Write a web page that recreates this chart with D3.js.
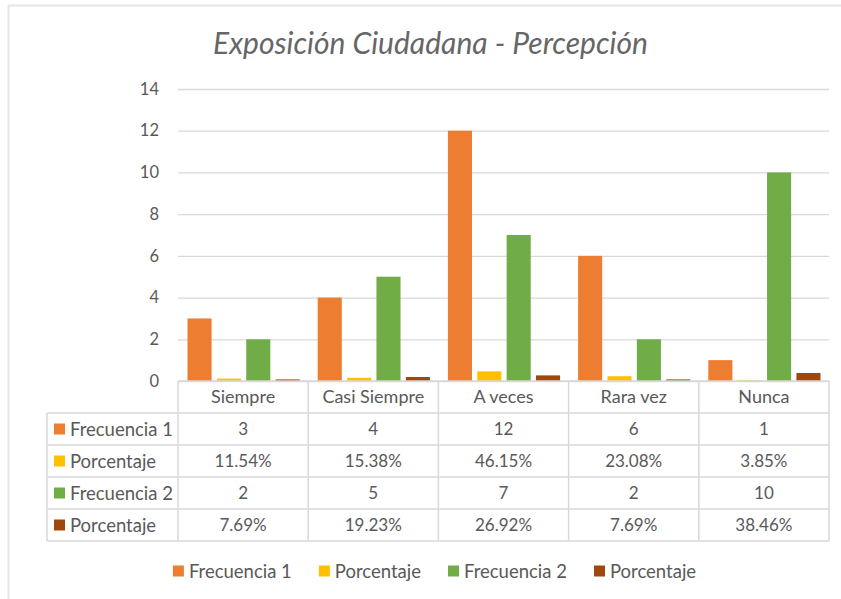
<!DOCTYPE html>
<html>
<head>
<meta charset="utf-8">
<script src="https://cdn.jsdelivr.net/npm/d3@7"></script>
<style>
  body { margin: 0; background: #fff; }
  svg text { font-family: Lato, "Open Sans", sans-serif; fill: #595959; }
</style>
</head>
<body>
<svg id="chart" width="841" height="599"></svg>
<script>
// data
const categories = ["Siempre", "Casi Siempre", "A veces", "Rara vez", "Nunca"];
const frecuencia1 = [3, 4, 12, 6, 1];
const porcentaje1 = [0.1154, 0.1538, 0.4615, 0.2308, 0.0385];
const frecuencia2 = [2, 5, 7, 2, 10];
const porcentaje2 = [0.0769, 0.1923, 0.2692, 0.0769, 0.3846];
const seriesNames = ["Frecuencia 1", "Porcentaje", "Frecuencia 2", "Porcentaje"];
const seriesKinds = ["count", "pct", "count", "pct"];
const colors = ["#ED7D31", "#FFC000", "#70AD47", "#9E480E"];
const yTicks = [0, 2, 4, 6, 8, 10, 12, 14];

const seriesValues = [frecuencia1, porcentaje1, frecuencia2, porcentaje2];

const svg = d3.select("#chart");
const grid = "#D9D9D9";

// outer frame (only top and left visible, chart is cropped)
svg.append("line").attr("x1", 8).attr("x2", 841).attr("y1", 5.5).attr("y2", 5.5)
  .attr("stroke", "#E6E6E6").attr("stroke-width", 2);
svg.append("line").attr("x1", 8.5).attr("x2", 8.5).attr("y1", 5).attr("y2", 599)
  .attr("stroke", "#E6E6E6").attr("stroke-width", 2);

// title
const title = svg.append("text")
  .attr("x", 430.5).attr("y", 54)
  .attr("text-anchor", "middle")
  .style("font-size", "29px")
  .style("font-style", "italic")
  .style("font-weight", 400)
  .style("fill", "#666")
  .text("Exposición Ciudadana - Percepción");
// fit title width to reference (~435px)
const tw = title.node().getComputedTextLength();
title.style("font-size", (29 * 435 / tw).toFixed(1) + "px");

// scales
const left = 178, right = 829, baseY = 381, topY = 89;
const x0 = d3.scaleBand().domain(categories).range([left, right]);
const x1 = d3.scaleBand().domain(d3.range(4)).range([9.5, x0.bandwidth() - 8.5]).paddingInner(0.18);
const y = d3.scaleLinear().domain([0, 14]).range([baseY, topY]);

// y axis grid + labels
const yAxis = d3.axisLeft(y).tickValues(yTicks).tickSize(-(right - left)).tickPadding(19);
const yg = svg.append("g").attr("transform", `translate(${left},0)`).call(yAxis);
yg.select(".domain").remove();
yg.selectAll(".tick line").attr("stroke", grid).attr("stroke-width", 1.3);
yg.selectAll(".tick text").style("font-size", "16.5px").attr("fill", "#595959")
  .style("font-family", "Lato, 'Open Sans', sans-serif");

// bars
const groups = svg.append("g").selectAll("g")
  .data(categories)
  .join("g")
  .attr("transform", d => `translate(${x0(d)},0)`);

groups.selectAll("rect")
  .data((c, i) => seriesValues.map((vals, s) => ({ s, v: vals[i] })))
  .join("rect")
  .attr("x", d => x1(d.s))
  .attr("width", x1.bandwidth())
  .attr("y", d => y(d.v))
  .attr("height", d => baseY - y(d.v))
  .attr("fill", d => colors[d.s]);

// data table
const tableLeft = 47, rowH = 32;
const tableBottom = baseY + rowH * 5;
const fmtPct = d3.format(".2%");
const table = svg.append("g");

// horizontal lines
table.append("line").attr("x1", left).attr("x2", right).attr("y1", baseY).attr("y2", baseY)
  .attr("stroke", grid).attr("stroke-width", 1.5);
for (let r = 1; r <= 5; r++) {
  table.append("line").attr("x1", tableLeft).attr("x2", right)
    .attr("y1", baseY + r * rowH).attr("y2", baseY + r * rowH)
    .attr("stroke", grid).attr("stroke-width", 1.5);
}
// vertical lines
table.append("line").attr("x1", tableLeft).attr("x2", tableLeft)
  .attr("y1", baseY + rowH).attr("y2", tableBottom).attr("stroke", grid).attr("stroke-width", 1.5);
categories.concat(["end"]).forEach(c => {
  const xx = c === "end" ? right : x0(c);
  table.append("line").attr("x1", xx).attr("x2", xx)
    .attr("y1", baseY).attr("y2", tableBottom).attr("stroke", grid).attr("stroke-width", 1.5);
});

// header texts
table.selectAll(".hdr").data(categories).join("text")
  .attr("class", "hdr")
  .attr("x", d => x0(d) + x0.bandwidth() / 2)
  .attr("y", baseY + rowH / 2)
  .attr("dy", "0.36em")
  .attr("text-anchor", "middle")
  .style("font-size", "18px")
  .text(d => d);

// row labels + values
seriesNames.forEach((name, s) => {
  const cy = baseY + rowH * (s + 1) + rowH / 2;
  table.append("rect").attr("x", 54).attr("y", cy - 5.5).attr("width", 11).attr("height", 11)
    .attr("fill", colors[s]);
  table.append("text").attr("x", 70).attr("y", cy).attr("dy", "0.36em")
    .style("font-size", "18.5px").text(name);
  table.selectAll(".v" + s).data(categories).join("text")
    .attr("class", "v" + s)
    .attr("x", d => x0(d) + x0.bandwidth() / 2)
    .attr("y", cy)
    .attr("dy", "0.36em")
    .attr("text-anchor", "middle")
    .style("font-size", "17px")
    .text((d, i) => seriesKinds[s] === "pct" ? fmtPct(seriesValues[s][i]) : seriesValues[s][i]);
});

// legend
const legend = svg.append("g");
const legY = 571;
const items = legend.selectAll("g").data(seriesNames).join("g");
items.append("rect").attr("x", 0).attr("y", legY - 5.5).attr("width", 11).attr("height", 11)
  .attr("fill", (d, i) => colors[i]);
items.append("text").attr("x", 16).attr("y", legY).attr("dy", "0.36em")
  .style("font-size", "18.5px").text(d => d);
const widths = [];
items.each(function () { widths.push(16 + this.querySelector("text").getComputedTextLength()); });
const gap = 27;
const total = d3.sum(widths) + gap * (widths.length - 1);
let cx = 434.5 - total / 2;
items.attr("transform", (d, i) => {
  const t = `translate(${cx},0)`;
  cx += widths[i] + gap;
  return t;
});
</script>
</body>
</html>
